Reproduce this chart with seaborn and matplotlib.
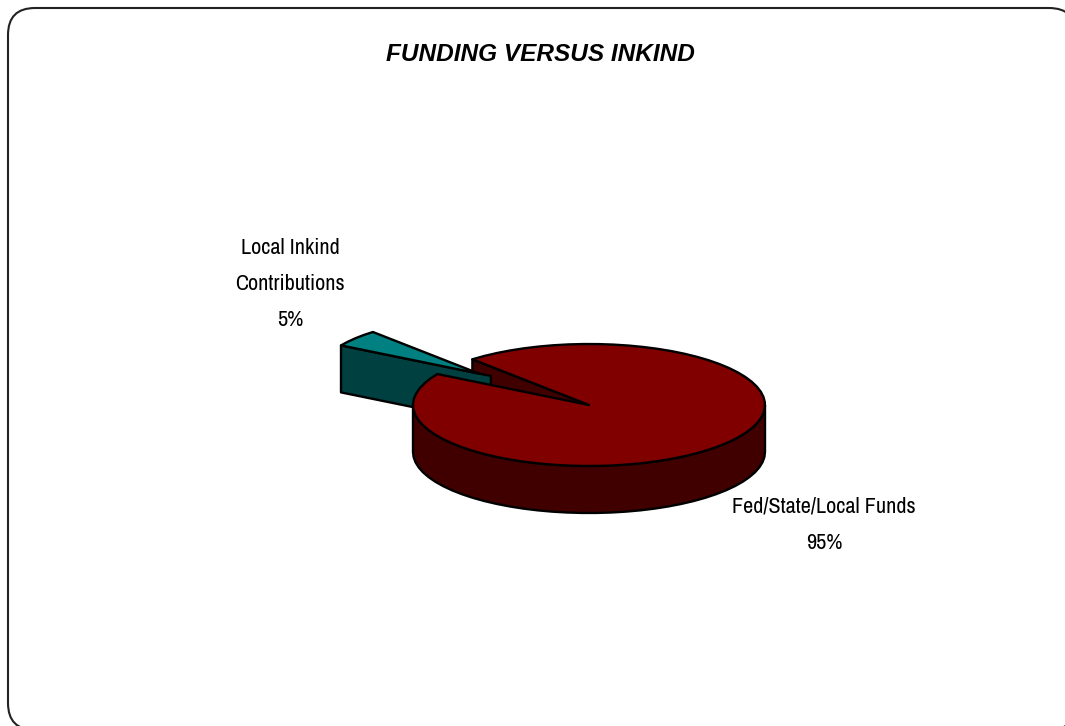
import matplotlib.pyplot as plt
import numpy as np
import seaborn as sns
from matplotlib.patches import FancyBboxPatch

# Values
categories = ["Fed/State/Local Funds", "Local Inkind\nContributions"]
shares = [95, 5]
top_colors = ["#800000", "#008080"]
side_colors = ["#400000", "#004040"]
chart_title = "FUNDING VERSUS INKIND"

sns.set_theme(style="white")
plt.rcParams["font.family"] = ["Archivo Narrow", "Liberation Sans", "DejaVu Sans"]

# Pie projection, in pixels of the 1065x726 picture
CX, CY, RX, RY, DEPTH = 589, 405, 176, 61, 47
SMALL_MID = 140.5       # direction of the pulled out slice, degrees
EXPLODE = 0.81
SMALL_R = 0.91


def project(angle, r=1.0, cx=CX, cy=CY):
    a = np.radians(angle)
    return cx + r * RX * np.cos(a), cy - r * RY * np.sin(a)


def arc(start, stop, r=1.0, cx=CX, cy=CY):
    # the original outline is a coarse polygon, so not too many points
    t = np.linspace(start, stop, int(abs(stop - start) / 5) + 2)
    return project(t, r, cx, cy)


fig, ax = plt.subplots(figsize=(10.65, 7.26), dpi=100)
fig.subplots_adjust(0, 0, 1, 1)
ax.set_xlim(0, 1065)
ax.set_ylim(726, 0)
ax.axis("off")

# Rounded frame, runs off the right and bottom of the picture
ax.add_patch(FancyBboxPatch((35, 35), 1014, 668, boxstyle="round,pad=27,rounding_size=27",
                            fc="white", ec="#222222", lw=1.5))

small_sweep = shares[1] / sum(shares) * 360
big_sweep = shares[0] / sum(shares) * 360
small_start = SMALL_MID - small_sweep / 2
small_stop = SMALL_MID + small_sweep / 2
big_start = small_stop
big_stop = big_start + big_sweep

edge = dict(ec="black", lw=1.7, joinstyle="round")

# Inside wall of the big slice seen through the gap
wx, wy = project(big_stop)
ax.fill([CX, wx, wx, CX], [CY, wy, wy + DEPTH, CY + DEPTH], fc=side_colors[0], zorder=1.5, **edge)

# Pulled out slice, its wall runs a bit past the tip like in the original
sx, sy = project(SMALL_MID, EXPLODE)
ox, oy = project(small_stop, SMALL_R, sx, sy)
wall_x = sx + (sx - ox) * 0.086
wall_y = sy + (sy - oy) * 0.086
ax.fill([ox, wall_x, wall_x, ox], [oy, wall_y, wall_y + DEPTH, oy + DEPTH],
        fc=side_colors[1], zorder=1.7, **edge)
tx, ty = arc(small_start, small_stop, SMALL_R, sx, sy)
ax.fill(np.r_[sx, tx], np.r_[sy, ty], fc=top_colors[1], zorder=1.8, **edge)

# Side of the big slice, front half only
fx, fy = arc(180, 360)
ax.fill(np.r_[fx, fx[::-1]], np.r_[fy, fy[::-1] + DEPTH], fc=side_colors[0], zorder=2, **edge)

# Top of the big slice
bx, by = arc(big_start, big_stop)
ax.fill(np.r_[CX, bx], np.r_[CY, by], fc=top_colors[0], zorder=3, **edge)

# Labels
ax.text(824, 525, f"{categories[0]}\n{shares[0]}%", ha="center", va="center",
        fontsize=16, linespacing=2.0, color="black")
ax.text(290, 284, f"{categories[1]}\n{shares[1]}%", ha="center", va="center",
        fontsize=16, linespacing=2.0, color="black")
ax.text(540, 54.5, chart_title, ha="center", va="center", fontsize=17.6, fontweight="bold",
        fontstyle="italic", family=["Liberation Sans", "DejaVu Sans"], color="black")

fig.savefig("out.png", dpi=100)
